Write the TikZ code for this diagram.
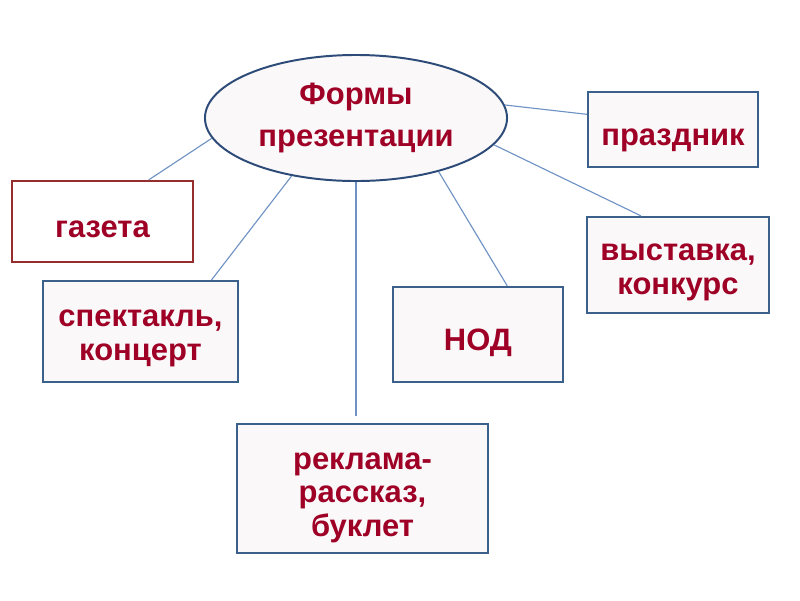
\documentclass[tikz,border=0pt]{standalone}
\usepackage{fontspec}
\setmainfont{Liberation Sans}
\usetikzlibrary{shapes.geometric}

\definecolor{txtred}{RGB}{158,0,38}
\definecolor{boxblue}{RGB}{60,96,140}
\definecolor{ellblue}{RGB}{45,75,120}
\definecolor{boxred}{RGB}{150,45,45}
\definecolor{boxfill}{RGB}{250,248,248}
\definecolor{linkblue}{RGB}{110,146,196}

\newcommand{\topgap}[1]{\rule{0pt}{#1}}

\begin{document}
\begin{tikzpicture}[x=0.025cm, y=-0.025cm,
    box/.style={draw=boxblue, line width=1.6pt, fill=boxfill, text=txtred,
        font=\fontsize{22}{24}\selectfont\bfseries, align=center, inner sep=0pt,
        execute at begin node={\rule{0pt}{27pt}},
        execute at end node={\rule[-4.7pt]{0pt}{4.7pt}}},
    link/.style={draw=linkblue, line width=0.8pt}]
    \useasboundingbox (0,0) rectangle (800,600);

    \node[ellipse, draw=ellblue, line width=1.4pt, fill=boxfill, text=txtred,
        font=\fontsize{22}{30}\selectfont\bfseries, align=center, inner sep=0pt,
        minimum width=7.55cm, minimum height=3.15cm] (ell) at (356,118) {Формы\\презентации};

    \node[box, draw=boxred, fill=white, minimum width=4.525cm, minimum height=2.025cm] (gaz) at (102.5,221.5) {газета};
    \node[box, minimum width=4.875cm, minimum height=2.525cm] (spek) at (140.5,331.5) {\topgap{22pt}спектакль,\\концерт};
    \node[box, minimum width=4.25cm, minimum height=1.875cm] (pra) at (673,129.5) {праздник};
    \node[box, minimum width=4.55cm, minimum height=2.4cm] (vys) at (678,265) {\topgap{22pt}выставка,\\конкурс};
    \node[box, minimum width=4.25cm, minimum height=2.375cm] (nod) at (478,334.5) {НОД};
    \node[box, minimum width=6.275cm, minimum height=3.225cm] (rek) at (362.5,488.5) {\topgap{25pt}реклама-\\рассказ,\\буклет};

    % connectors
    \draw[link] (ell.188) -- (gaz.42);
    \draw[link] (ell.222) -- (spek.36);
    \draw[link, shorten >=5pt] (ell.south) -- (ell.south |- rek.north);
    \draw[link] (ell.327) -- (nod.59);
    \draw[link] (ell.349) -- (vys.127);
    \draw[link] (ell.5) -- (pra.170);
\end{tikzpicture}
\end{document}
